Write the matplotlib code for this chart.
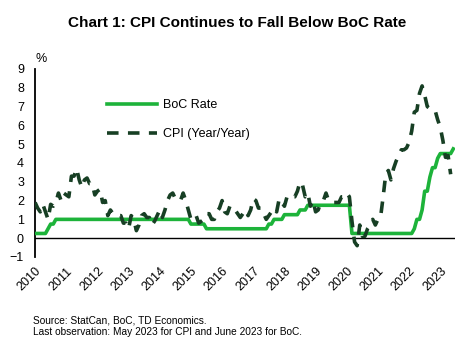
import matplotlib
matplotlib.use("Agg")
import matplotlib.pyplot as plt
import numpy as np

plt.rcParams['font.family'] = ['Liberation Sans', 'DejaVu Sans']

years = [str(y) for y in range(2010, 2024)]

boc_rate = (
    [0.25]*5 + [0.5, 0.75, 0.75] + [1.0]*4 +          # 2010
    [1.0]*12 + [1.0]*12 + [1.0]*12 + [1.0]*12 +       # 2011-2014
    [0.75]*6 + [0.5]*6 +                              # 2015
    [0.5]*12 +                                        # 2016
    [0.5]*6 + [0.75, 0.75] + [1.0]*4 +                # 2017
    [1.25]*6 + [1.5]*3 + [1.75]*3 +                   # 2018
    [1.75]*12 +                                       # 2019
    [1.75, 1.75] + [0.25]*10 +                        # 2020
    [0.25]*12 +                                       # 2021
    [0.25, 0.25, 0.5, 1.0, 1.0, 1.5, 2.5, 2.5, 3.25, 3.75, 3.75, 4.25] +  # 2022
    [4.5]*5 + [4.75]                                  # 2023
)

cpi = [
    1.9, 1.6, 1.4, 1.8, 1.4, 1.0, 1.8, 1.7, 1.9, 2.4, 2.0, 2.4,
    2.3, 2.2, 3.3, 3.3, 3.7, 3.1, 2.7, 3.1, 3.2, 2.9, 2.9, 2.3,
    2.5, 2.6, 1.9, 2.0, 1.2, 1.5, 1.3, 1.2, 1.2, 1.2, 0.8, 0.8,
    0.5, 1.2, 1.0, 0.4, 0.7, 1.2, 1.3, 1.1, 1.1, 0.7, 0.9, 1.2,
    1.5, 1.1, 1.5, 2.0, 2.3, 2.4, 2.1, 2.1, 2.0, 2.4, 2.0, 1.5,
    1.0, 1.0, 1.2, 0.8, 0.9, 1.0, 1.3, 1.3, 1.0, 1.0, 1.4, 1.6,
    2.0, 1.4, 1.3, 1.7, 1.5, 1.5, 1.3, 1.1, 1.3, 1.5, 1.2, 1.5,
    2.1, 2.0, 1.6, 1.6, 1.3, 1.0, 1.2, 1.4, 1.6, 1.4, 2.1, 1.9,
    1.7, 2.2, 2.3, 2.2, 2.2, 2.5, 3.0, 2.8, 2.2, 2.4, 1.7, 2.0,
    1.4, 1.5, 1.9, 2.0, 2.4, 2.0, 2.0, 1.9, 1.9, 1.9, 2.2, 2.2,
    2.4, 2.2, 0.9, -0.2, -0.4, 0.7, 0.1, 0.1, 0.5, 0.7, 1.0, 0.7,
    1.0, 1.1, 2.2, 3.4, 3.6, 3.1, 3.7, 4.1, 4.4, 4.7, 4.7, 4.8,
    5.1, 5.7, 6.7, 6.8, 7.7, 8.1, 7.6, 7.0, 6.9, 6.9, 6.8, 6.3,
    5.9, 5.2, 4.3, 4.4, 3.4,
]

t_boc = 2010 + np.arange(len(boc_rate)) / 12.0
t_cpi = 2010 + np.arange(len(cpi)) / 12.0

fig = plt.figure(figsize=(4.74, 3.52), dpi=100)
ax = fig.add_axes([0.074, 0.270, 0.885, 0.534])

ax.plot(t_boc, boc_rate, color='#1db33a', lw=2.6, label='BoC Rate', zorder=3)
ax.plot(t_cpi, cpi, color='#173f24', lw=2.6, dashes=(3.2, 2.6), label='CPI (Year/Year)', zorder=4)
ax.axhline(0, color='black', lw=1.0, zorder=2)

ax.set_xlim(2010, 2023 + 5.5/12)
ax.set_ylim(-1, 9)
ax.set_yticks(range(-1, 10))
ax.set_xticks(range(2010, 2024))
ax.set_xticklabels(years, rotation=45, ha='right', va='top', rotation_mode='anchor', fontsize=9)
ax.tick_params(axis='both', length=0, labelsize=9)
ax.tick_params(axis='x', pad=6)
ax.tick_params(axis='y', pad=8)

for s in ['top', 'right', 'bottom']:
    ax.spines[s].set_visible(False)
ax.spines['left'].set_linewidth(1.3)

ax.text(0.0, 1.02, '%', transform=ax.transAxes, fontsize=9, ha='left', va='bottom')

leg = ax.legend(loc='upper left', bbox_to_anchor=(0.145, 0.90), frameon=False,
                fontsize=9, handlelength=4.0, labelspacing=1.35, handletextpad=0.5)

fig.text(0.5, 0.935, 'Chart 1: CPI Continues to Fall Below BoC Rate', ha='center', va='center',
         fontsize=11, fontweight='bold')
fig.text(0.07, 0.073, 'Source: StatCan, BoC, TD Economics.\nLast observation: May 2023 for CPI and June 2023 for BoC.',
         fontsize=7.3, ha='left', va='center', linespacing=1.25)

fig.savefig('out.png', dpi=100)
